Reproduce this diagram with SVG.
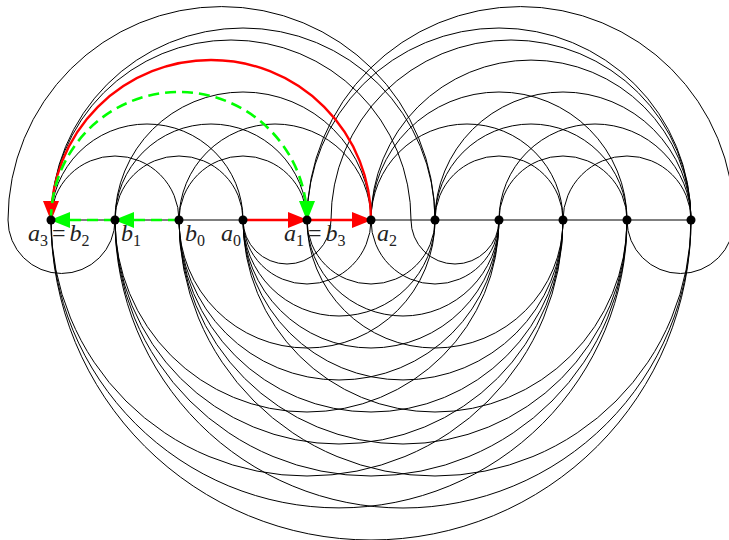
<svg xmlns="http://www.w3.org/2000/svg" width="729" height="540" viewBox="0 0 729 540">
<style>
.e{fill:none;stroke:#000;stroke-width:1}
.red{fill:none;stroke:#ff0000;stroke-width:2.4}
.grn{fill:none;stroke:#00ff00;stroke-width:2.6;stroke-dasharray:11 6}
.dot{fill:#000}
.lbl{font-family:"Liberation Serif",serif;font-size:24px;fill:#222}
.i{font-style:italic}
.s{font-size:16px}
</style>
<defs>
<marker id="ar" markerUnits="userSpaceOnUse" markerWidth="20" markerHeight="16" refX="19" refY="8" orient="auto"><path d="M0,0 L20,8 L0,16 z" fill="#ff0000"/></marker>
<marker id="ag" markerUnits="userSpaceOnUse" markerWidth="20" markerHeight="16" refX="19" refY="8" orient="auto"><path d="M0,0 L20,8 L0,16 z" fill="#00ff00"/></marker>
</defs>
<rect width="729" height="540" fill="#fff"/>
<g id="connectors">
<path class="e" d="M51 220 H691"/>
<path class="e" d="M51 220 A64 64 0 0 1 179 220"/>
<path class="e" d="M115 220 A64 64 0 0 1 243 220"/>
<path class="e" d="M179 220 A64 64 0 0 1 307 220"/>
<path class="e" d="M435 220 A64 64 0 0 1 563 220"/>
<path class="e" d="M499 220 A64 64 0 0 1 627 220"/>
<path class="e" d="M563 220 A64 64 0 0 1 691 220"/>
<path class="e" d="M51 220 A96 96 0 0 1 243 220"/>
<path class="e" d="M115 220 A96 96 0 0 1 307 220"/>
<path class="e" d="M179 220 A96 96 0 0 1 371 220"/>
<path class="e" d="M371 220 A96 96 0 0 1 563 220"/>
<path class="e" d="M435 220 A96 96 0 0 1 627 220"/>
<path class="e" d="M499 220 A96 96 0 0 1 691 220"/>
<path class="e" d="M115 220 A128 128 0 0 1 371 220"/>
<path class="e" d="M371 220 A128 128 0 0 1 627 220"/>
<path class="e" d="M435 220 A128 128 0 0 1 691 220"/>
<path class="e" d="M371 220 A160 160 0 0 1 691 220"/>
<path class="e" d="M51 220 A192 192 0 0 1 435 220"/>
<path class="e" d="M307 220 A192 192 0 0 1 691 220"/>
<path class="e" d="M243 220 A64 64 0 0 0 371 220"/>
<path class="e" d="M307 220 A64 64 0 0 0 435 220"/>
<path class="e" d="M371 220 A64 64 0 0 0 499 220"/>
<path class="e" d="M243 220 A96 96 0 0 0 435 220"/>
<path class="e" d="M307 220 A96 96 0 0 0 499 220"/>
<path class="e" d="M179 220 A128 128 0 0 0 435 220"/>
<path class="e" d="M243 220 A128 128 0 0 0 499 220"/>
<path class="e" d="M307 220 A128 128 0 0 0 563 220"/>
<path class="e" d="M179 220 A160 160 0 0 0 499 220"/>
<path class="e" d="M243 220 A160 160 0 0 0 563 220"/>
<path class="e" d="M115 220 A192 192 0 0 0 499 220"/>
<path class="e" d="M179 220 A192 192 0 0 0 563 220"/>
<path class="e" d="M243 220 A192 192 0 0 0 627 220"/>
<path class="e" d="M115 220 A224 224 0 0 0 563 220"/>
<path class="e" d="M179 220 A224 224 0 0 0 627 220"/>
<path class="e" d="M51 220 A256 256 0 0 0 563 220"/>
<path class="e" d="M115 220 A256 256 0 0 0 627 220"/>
<path class="e" d="M179 220 A256 256 0 0 0 691 220"/>
<path class="e" d="M51 220 A288 288 0 0 0 627 220"/>
<path class="e" d="M115 220 A288 288 0 0 0 691 220"/>
<path class="e" d="M51 220 A320 320 0 0 0 691 220"/>
<path class="e" d="M51 220 A180 180 0 0 1 411 220 A44 44 0 0 0 499 220"/>
<path class="e" d="M691 220 A180 180 0 0 0 331 220 A44 44 0 0 1 243 220"/>
<path class="e" d="M435 220 A213.5 213.5 0 0 0 8 220 A53.5 53.5 0 0 0 115 220"/>
<path class="e" d="M307 220 A213.5 213.5 0 0 1 734 220 A53.5 53.5 0 0 1 627 220"/>
<path class="red" d="M243 220 H307" marker-end="url(#ar)"/>
<path class="red" d="M307 220 H371" marker-end="url(#ar)"/>
<path class="red" d="M371 220 A160 160 0 0 0 51 220" marker-end="url(#ar)"/>
<path class="grn" d="M179 220 H115" marker-end="url(#ag)"/>
<path class="grn" d="M115 220 H51" marker-end="url(#ag)"/>
<path class="grn" d="M51 220 A128 128 0 0 1 307 220" marker-end="url(#ag)"/>
</g>
<g id="v0"><circle class="dot" cx="51" cy="220" r="4.5"/><text class="lbl" x="28" y="241"><tspan class="i">a</tspan><tspan class="s" dy="5">3</tspan><tspan dx="4" dy="-5">=</tspan><tspan class="i" dx="4">b</tspan><tspan class="s" dy="5">2</tspan></text></g>
<g id="v1"><circle class="dot" cx="115" cy="220" r="4.5"/><text class="lbl" x="121" y="241"><tspan class="i">b</tspan><tspan class="s" dy="5">1</tspan></text></g>
<g id="v2"><circle class="dot" cx="179" cy="220" r="4.5"/><text class="lbl" x="185" y="241"><tspan class="i">b</tspan><tspan class="s" dy="5">0</tspan></text></g>
<g id="v3"><circle class="dot" cx="243" cy="220" r="4.5"/><text class="lbl" x="221" y="241"><tspan class="i">a</tspan><tspan class="s" dy="5">0</tspan></text></g>
<g id="v4"><circle class="dot" cx="307" cy="220" r="4.5"/><text class="lbl" x="284" y="241"><tspan class="i">a</tspan><tspan class="s" dy="5">1</tspan><tspan dx="4" dy="-5">=</tspan><tspan class="i" dx="4">b</tspan><tspan class="s" dy="5">3</tspan></text></g>
<g id="v5"><circle class="dot" cx="371" cy="220" r="4.5"/><text class="lbl" x="377" y="241"><tspan class="i">a</tspan><tspan class="s" dy="5">2</tspan></text></g>
<g id="v6"><circle class="dot" cx="435" cy="220" r="4.5"/></g>
<g id="v7"><circle class="dot" cx="499" cy="220" r="4.5"/></g>
<g id="v8"><circle class="dot" cx="563" cy="220" r="4.5"/></g>
<g id="v9"><circle class="dot" cx="627" cy="220" r="4.5"/></g>
<g id="v10"><circle class="dot" cx="691" cy="220" r="4.5"/></g>
</svg>
